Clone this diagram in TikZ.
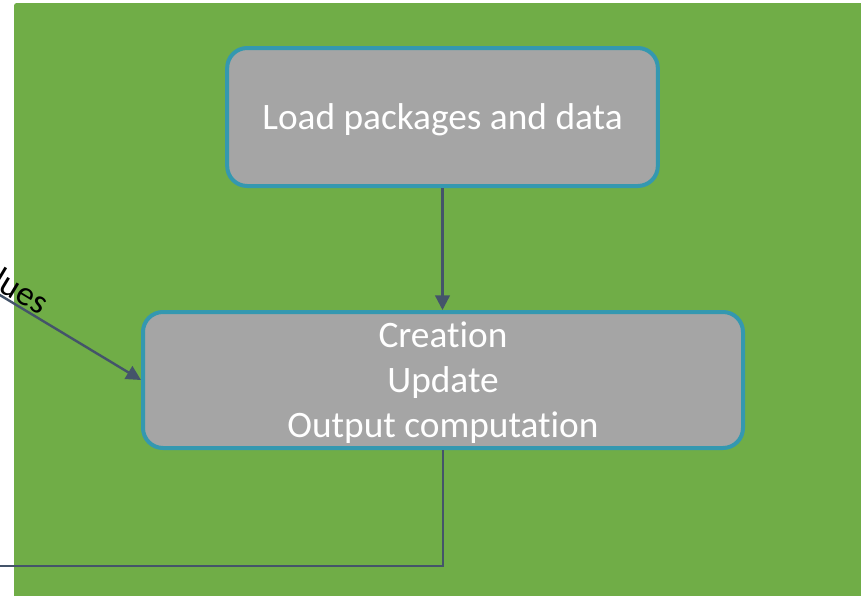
\documentclass[tikz,border=0pt]{standalone}
\usepackage{fontspec}
\setmainfont{Carlito}[RawFeature=-liga]
\usetikzlibrary{arrows.meta}
\definecolor{vert}{HTML}{70AD47}
\definecolor{gris}{HTML}{A5A5A5}
\definecolor{bordure}{RGB}{52,152,176}
\definecolor{trait}{HTML}{44546A}
\begin{document}
\begin{tikzpicture}[x=0.75pt,y=-0.75pt]
% Styles
\tikzstyle{boite}=[draw=bordure,fill=gris,line width=3pt,rounded corners=15pt,text=white,align=center,text depth=0pt,font=\fontsize{28}{33.75}\selectfont]
\tikzstyle{lien}=[draw=trait,line width=1.8pt]
\tikzstyle{fleche}=[lien,-{Triangle[width=11pt,length=11pt]}]
% Cadre
\useasboundingbox (0,0) rectangle (861,596);
\clip (0,0) rectangle (861,596);
\fill[vert,rounded corners=2pt] (14,3) rectangle (890,630);
% Boites
\node[boite,minimum width=323pt,minimum height=103.5pt] (charge) at (442.5,117) {Load packages and data};
\node[boite,minimum width=450pt,minimum height=102pt] (maj) at (443,380) {Creation\\Update\\Output computation};
% Liens
\coordinate (entree) at (-60,259);
\coordinate (sortie) at (-20,566);
\draw[fleche] (charge.south) -- (charge.south |- maj.north);
\draw[fleche] (entree) -- node[sloped,above,pos=0.3,inner sep=1pt,font=\fontsize{26}{30}\selectfont] {values} (maj.west);
\draw[lien] (maj.south) |- (sortie);
\end{tikzpicture}
\end{document}
